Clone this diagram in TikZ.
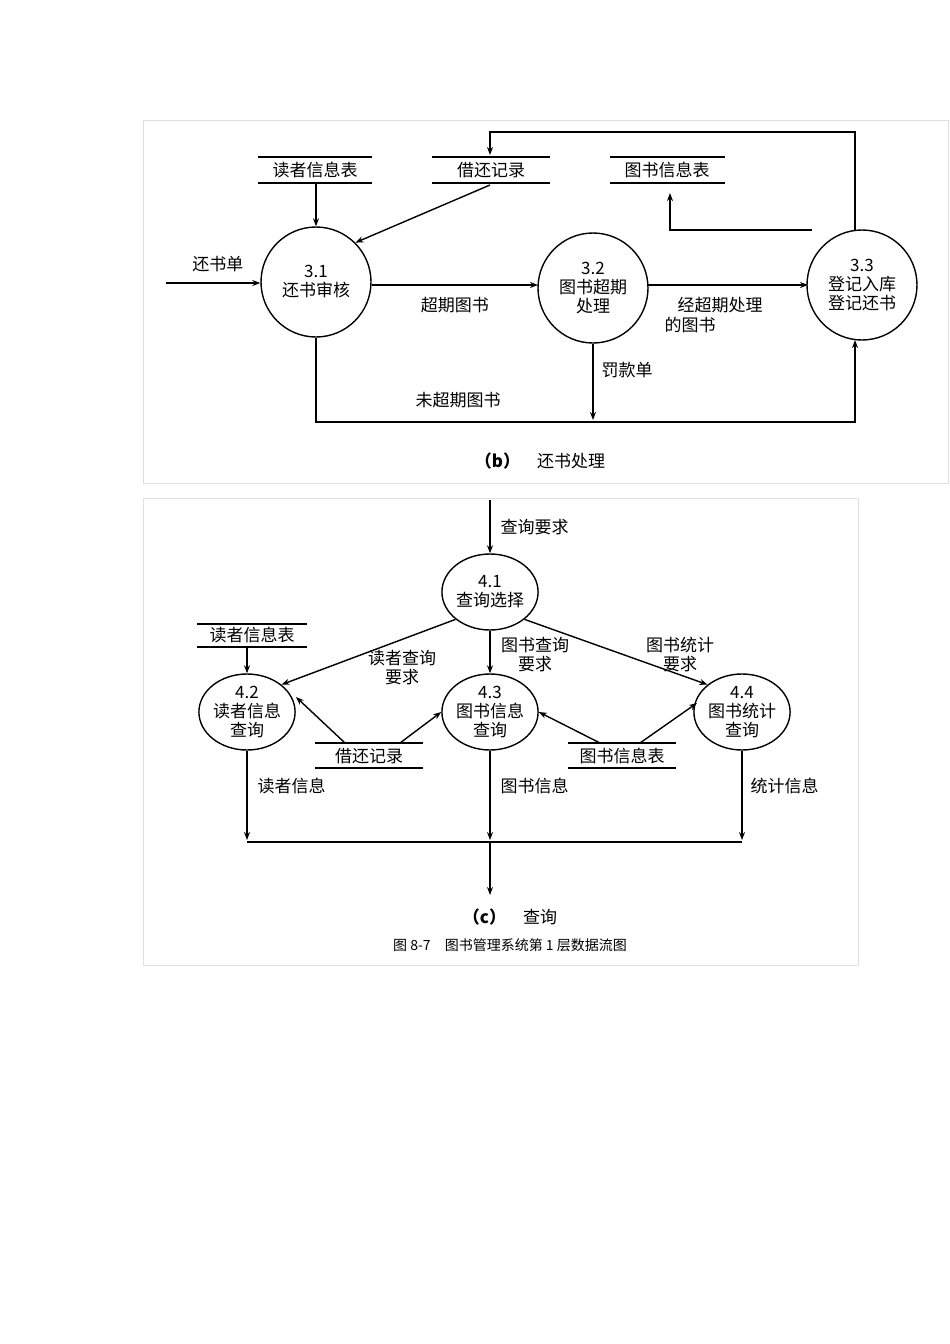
\documentclass[tikz,border=0pt]{standalone}
\usepackage{fontspec}
\setmainfont{Noto Sans CJK SC}
\usetikzlibrary{arrows.meta,shapes.geometric}
\begin{document}
\begin{tikzpicture}[x=1pt,y=-1pt,
  every node/.style={font=\fontsize{17}{19}\selectfont, inner sep=0pt, align=center},
  line/.style={line width=1.4pt},
  arr/.style={line width=1.4pt,-{Stealth[length=8pt,width=6pt]}},
  proc/.style={draw,circle,line width=1.4pt,minimum size=110pt},
  proc2/.style={draw,ellipse,line width=1.4pt,minimum width=94pt,minimum height=76pt},
  frame/.style={draw=black!12,line width=0.6pt}]
\useasboundingbox (0,0) rectangle (950,1344);
\draw[frame] (143,120) rectangle (948,483);
\draw[frame] (143,498) rectangle (858,965);
% panel b stores
\node (s1) at (315,170) {读者信息表};
\draw[line] (258,157)--(372,157) (258,183)--(372,183);
\node (s2) at (491,170) {借还记录};
\draw[line] (432,157)--(550,157) (432,183)--(550,183);
\node (s3) at (667,170) {图书信息表};
\draw[line] (610,157)--(725,157) (610,183)--(725,183);
% processes
\node[proc] (p1) at (316,282) {3.1\\还书审核};
\node[proc] (p2) at (593,288) {3.2\\图书超期\\处理};
\node[proc] (p3) at (862,285) {3.3\\登记入库\\登记还书};
\coordinate (in) at (166,283);
\draw[arr] (in)--(p1.west|-in) node[pos=0.55,above=10pt] {还书单};
\draw[arr] (316,183)--(p1.north);
\draw[arr] (490,185)--(p1.north east);
\draw[arr] (p1.east|-0,285)--(538,285) node[midway,below=12pt] {超期图书};
\draw[arr] (648,285)--(808,285);
\node at (720,305) {经超期处理};
\node at (690,325) {的图书};
\draw[arr] (812,230)--(670,230)--(670,193);
\draw[arr] (855,231)--(855,132)--(490,132)--(490,155);
\draw[arr] (p2.south)--(593,420) node[pos=0.35,right=8pt] {罚款单};
\draw[arr] (p1.south)--(316,422)--(855,422)--(855,340);
\node at (458,400) {未超期图书};
\node at (540,461) {\textbf{（b）}\quad 还书处理};
% panel c
\coordinate (q) at (490,500);
\node[proc2] (c1) at (490,592) {4.1\\查询选择};
\draw[arr] (q)--(c1.north) node[midway,right=10pt] {查询要求};
\node[proc2] (c2) at (247,712) {4.2\\读者信息\\查询};
\node[proc2] (c3) at (490,712) {4.3\\图书信息\\查询};
\node[proc2] (c4) at (742,712) {4.4\\图书统计\\查询};
\node (t1) at (252,635) {读者信息表};
\draw[line] (197,624)--(307,624) (197,647)--(307,647);
\draw[arr] (247,647)--(c2.north);
\draw[arr] (c1.south west)--(c2.north east);
\node at (402,668) {读者查询\\要求};
\draw[arr] (c1.south)--(c3.north);
\node at (535,655) {图书查询\\要求};
\draw[arr] (c1.south east)--(c4.north west);
\node at (680,655) {图书统计\\要求};
\node (t2) at (369,756) {借还记录};
\draw[line] (315,743)--(423,743) (315,768)--(423,768);
\draw[arr] (345,743)--(296,697);
\draw[arr] (400,743)--(c3.west);
\node (t3) at (622,756) {图书信息表};
\draw[line] (568,743)--(676,743) (568,768)--(676,768);
\draw[arr] (600,743)--(c3.east);
\draw[arr] (640,743)--(697,703);
\draw[arr] (c2.south)--(247,840) node[pos=0.4,right=10pt] {读者信息};
\draw[arr] (c3.south)--(490,840) node[pos=0.4,right=10pt] {图书信息};
\draw[arr] (c4.south)--(742,840) node[pos=0.4,right=8pt] {统计信息};
\draw[line] (247,842)--(742,842);
\draw[arr] (490,842)--(490,895);
\node at (510,917) {\textbf{（c）}\quad 查询};
\node[font=\fontsize{14}{16}\selectfont] at (510,945) {图 8-7\quad 图书管理系统第 1 层数据流图};
\end{tikzpicture}
\end{document}
